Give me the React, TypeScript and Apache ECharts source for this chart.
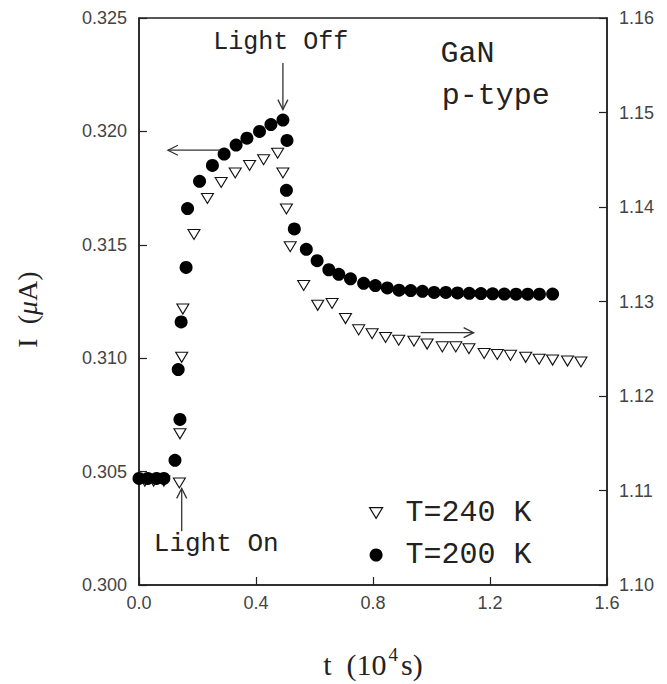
import React, { useEffect, useRef } from "react";
import * as echarts from "echarts";

// ---- Data ----
const xRange = { min: 0, max: 1.6, interval: 0.4 };
const leftRange = { min: 0.3, max: 0.325, interval: 0.005 };
const rightRange = { min: 1.1, max: 1.16, interval: 0.01 };

// T = 200 K (filled circles, left axis, I in µA)
const t200X = [0.0, 0.03, 0.06, 0.085, 0.123, 0.140, 0.134, 0.144, 0.161, 0.166, 0.207, 0.251, 0.291, 0.332, 0.369, 0.412, 0.451, 0.492, 0.506, 0.504, 0.531, 0.572, 0.609, 0.649, 0.683, 0.723, 0.768, 0.808, 0.849, 0.889, 0.929, 0.969, 1.009, 1.049, 1.089, 1.129, 1.169, 1.209, 1.249, 1.289, 1.329, 1.369, 1.414];
const t200I = [0.3047, 0.3047, 0.3047, 0.3047, 0.3055, 0.3073, 0.3095, 0.3116, 0.3140, 0.3166, 0.3178, 0.3185, 0.3190, 0.3194, 0.3197, 0.3200, 0.3203, 0.3205, 0.3196, 0.3174, 0.3157, 0.3148, 0.3143, 0.3139, 0.3137, 0.3135, 0.3133, 0.3132, 0.3131, 0.3130, 0.31298, 0.31295, 0.3129, 0.3129, 0.31288, 0.31286, 0.31285, 0.31284, 0.31283, 0.31282, 0.31282, 0.31282, 0.31283];

// T = 240 K (open triangles, right axis)
const t240X = [0.02, 0.05, 0.085, 0.138, 0.140, 0.146, 0.150, 0.188, 0.234, 0.281, 0.329, 0.378, 0.426, 0.474, 0.492, 0.504, 0.517, 0.563, 0.611, 0.660, 0.706, 0.751, 0.797, 0.843, 0.888, 0.940, 0.985, 1.037, 1.083, 1.128, 1.180, 1.225, 1.270, 1.322, 1.368, 1.414, 1.465, 1.511];
const t240I = [1.1110, 1.1110, 1.1110, 1.1108, 1.1160, 1.1241, 1.1292, 1.1371, 1.1409, 1.1426, 1.1436, 1.1444, 1.1450, 1.1457, 1.1436, 1.1398, 1.1358, 1.1317, 1.1296, 1.1298, 1.1282, 1.1270, 1.1266, 1.1262, 1.1259, 1.1258, 1.1255, 1.1252, 1.1252, 1.1250, 1.1245, 1.1244, 1.1243, 1.1241, 1.1239, 1.1238, 1.1237, 1.1236];

const seriesNames = ["T=240 K", "T=200 K"];

// Annotations in data coordinates (left axis unless noted)
const textNotes = [
  { text: "Light Off", x: 0.485, y: 0.3239, size: 25, align: "center" },
  { text: "Light On", x: 0.264, y: 0.3018, size: 26, align: "center" },
  { text: "GaN", x: 1.031, y: 0.32342, size: 30, align: "left" },
  { text: "p-type", x: 1.035, y: 0.32155, size: 30, align: "left" },
];
// arrows: [tailX, tailY, tipX, tipY, yAxisIndex]
const arrowNotes: [number, number, number, number, number][] = [
  [0.492, 0.32302, 0.492, 0.32096, 0],
  [0.146, 0.30237, 0.146, 0.30426, 0],
  [0.277, 0.31917, 0.099, 0.31917, 0],
  [0.963, 1.1267, 1.144, 1.1267, 1],
];

const TRI = "path://M0,0 L12,0 L6,10 Z";

export default function App() {
  const ref = useRef<HTMLDivElement>(null);
  useEffect(() => {
    if (!ref.current) return;
    const chart = echarts.init(ref.current, null, { renderer: "svg" });
    const axisColor = "#222";
    const labelStyle = { fontFamily: "Liberation Sans", fontSize: 18, color: "#444" };
    chart.setOption({
      animation: false,
      backgroundColor: "#fff",
      grid: { left: 139, right: 60, top: 18, bottom: 97, show: true, borderColor: axisColor, borderWidth: 1.5, backgroundColor: "transparent" },
      legend: {
        orient: "vertical",
        left: 364,
        top: 493,
        itemWidth: 13,
        itemHeight: 13,
        itemGap: 12,
        textStyle: { fontFamily: "Liberation Mono", fontSize: 30, color: "#222", padding: [0, 0, 0, 18] },
        data: [
          { name: seriesNames[0], icon: TRI, itemStyle: { color: "#fff", borderColor: "#111", borderWidth: 1.2 } },
          { name: seriesNames[1], icon: "circle", itemStyle: { color: "#000" } },
        ],
      },
      xAxis: {
        type: "value",
        min: xRange.min,
        max: xRange.max,
        interval: xRange.interval,
        name: "{n|t  (10}{s|4}{n|s)}",
        nameLocation: "middle",
        nameGap: 60,
        nameTextStyle: {
          rich: {
            n: { fontFamily: "Liberation Serif", fontSize: 30, color: "#222", verticalAlign: "bottom" },
            s: { fontFamily: "Liberation Serif", fontSize: 19, color: "#222", verticalAlign: "bottom", padding: [0, 3, 15, 2] },
          },
        },
        axisLine: { show: true, lineStyle: { color: axisColor, width: 1.5 } },
        axisTick: { show: true, inside: true, length: 8, lineStyle: { color: axisColor, width: 1.2 } },
        axisLabel: { ...labelStyle, margin: 9, formatter: (v: number) => v.toFixed(1) },
        splitLine: { show: false },
      },
      yAxis: [
        {
          type: "value",
          position: "left",
          min: leftRange.min,
          max: leftRange.max,
          interval: leftRange.interval,
          name: "I  ({i|μ}A)",
          nameLocation: "middle",
          nameRotate: 90,
          nameGap: 98,
          nameTextStyle: {
            fontFamily: "Liberation Serif",
            fontSize: 28,
            color: "#222",
            padding: [0, 16, 0, 0],
            rich: { i: { fontFamily: "Liberation Serif", fontSize: 28, fontStyle: "italic", color: "#222" } },
          },
          axisLine: { show: true, lineStyle: { color: axisColor, width: 1.5 } },
          axisTick: { show: true, inside: true, length: 8, lineStyle: { color: axisColor, width: 1.2 } },
          axisLabel: { ...labelStyle, margin: 12, formatter: (v: number) => v.toFixed(3) },
          splitLine: { show: false },
        },
        {
          type: "value",
          position: "right",
          min: rightRange.min,
          max: rightRange.max,
          interval: rightRange.interval,
          axisLine: { show: true, lineStyle: { color: axisColor, width: 1.5 } },
          axisTick: { show: true, inside: true, length: 8, lineStyle: { color: axisColor, width: 1.2 } },
          axisLabel: { ...labelStyle, margin: 12, formatter: (v: number) => v.toFixed(2) },
          splitLine: { show: false },
        },
      ],
      series: [
        {
          name: seriesNames[0],
          type: "scatter",
          yAxisIndex: 1,
          symbol: TRI,
          symbolSize: [12, 10],
          itemStyle: { color: "#fff", borderColor: "#111", borderWidth: 1.1, opacity: 1 },
          data: t240X.map((x, i) => [x, t240I[i]]),
          z: 2,
        },
        {
          name: seriesNames[1],
          type: "scatter",
          yAxisIndex: 0,
          symbol: "circle",
          symbolSize: 13,
          itemStyle: { color: "#000", opacity: 1 },
          data: t200X.map((x, i) => [x, t200I[i]]),
          z: 3,
        },
      ],
    });

    const toPx = (x: number, y: number, yi = 0) =>
      chart.convertToPixel({ xAxisIndex: 0, yAxisIndex: yi }, [x, y]) as number[];
    const stroke = "#333";
    const elements: any[] = [];
    textNotes.forEach((n) => {
      const p = toPx(n.x, n.y);
      elements.push({
        type: "text",
        x: p[0],
        y: p[1],
        z: 10,
        style: {
          text: n.text,
          font: `${n.size}px "Liberation Mono"`,
          fill: "#222",
          align: n.align,
          verticalAlign: "middle",
        },
      });
    });
    arrowNotes.forEach(([tx, ty, hx, hy, yi]) => {
      const a = toPx(tx, ty, yi);
      const b = toPx(hx, hy, yi);
      const dx = b[0] - a[0];
      const dy = b[1] - a[1];
      const L = Math.hypot(dx, dy);
      const ux = dx / L;
      const uy = dy / L;
      const hl = 10;
      const hw = 5;
      const p1 = [b[0] - ux * hl - uy * hw, b[1] - uy * hl + ux * hw];
      const p2 = [b[0] - ux * hl + uy * hw, b[1] - uy * hl - ux * hw];
      elements.push({ type: "line", z: 10, shape: { x1: a[0], y1: a[1], x2: b[0], y2: b[1] }, style: { stroke, lineWidth: 1.3 } });
      elements.push({ type: "polyline", z: 10, shape: { points: [p1, b, p2] }, style: { stroke, fill: "none", lineWidth: 1.3 } });
    });
    chart.setOption({ graphic: elements });

    return () => chart.dispose();
  }, []);
  return <div ref={ref} style={{ position: "absolute", left: 0, top: 0, width: 667, height: 684 }} />;
}
